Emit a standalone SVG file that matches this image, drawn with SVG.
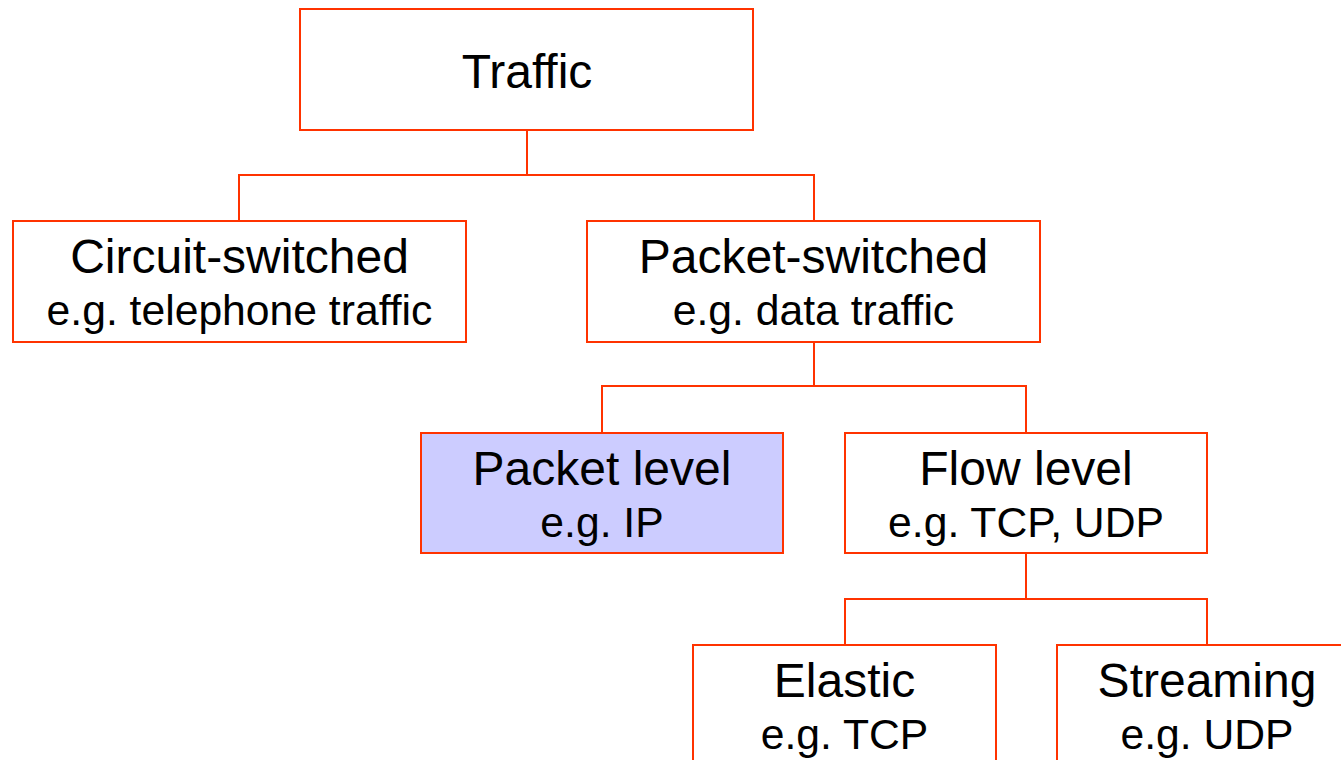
<svg xmlns="http://www.w3.org/2000/svg" width="1341" height="760" viewBox="0 0 1341 760">
<style>
.box{fill:#ffffff;stroke:#ff3300;stroke-width:2}
.hl{fill:#ccccff}
.t1{font-family:"Liberation Sans",Arial,sans-serif;font-size:48px;fill:#000;text-anchor:middle}
.t2{font-family:"Liberation Sans",Arial,sans-serif;font-size:42.67px;fill:#000;text-anchor:middle}
.c{fill:none;stroke:#ff3300;stroke-width:2}
</style>
<rect width="1341" height="760" fill="#ffffff"/>
<g id="connectors">
<path class="c" d="M527,130 V175 M239,221 V175 H814 V221"/>
<path class="c" d="M814,342 V386 M602,433 V386 H1026 V433"/>
<path class="c" d="M1026,553 V599 M845,645 V599 H1207 V645"/>
</g>
<g id="traffic">
<rect class="box" x="300" y="9" width="453" height="121"/>
<text class="t1" x="527" y="88">Traffic</text>
</g>
<g id="circuit">
<rect class="box" x="13" y="221" width="453" height="121"/>
<text class="t1" x="239.5" y="273">Circuit-switched</text>
<text class="t2" x="239.5" y="325">e.g. telephone traffic</text>
</g>
<g id="packetswitched">
<rect class="box" x="587" y="221" width="453" height="121"/>
<text class="t1" x="813.5" y="273">Packet-switched</text>
<text class="t2" x="813.5" y="325">e.g. data traffic</text>
</g>
<g id="packetlevel">
<rect class="box hl" x="421" y="433" width="362" height="120"/>
<text class="t1" x="602" y="485">Packet level</text>
<text class="t2" x="602" y="537">e.g. IP</text>
</g>
<g id="flowlevel">
<rect class="box" x="845" y="433" width="362" height="120"/>
<text class="t1" x="1026" y="485">Flow level</text>
<text class="t2" x="1026" y="537">e.g. TCP, UDP</text>
</g>
<g id="elastic">
<rect class="box" x="693" y="645" width="303" height="130"/>
<text class="t1" x="844.5" y="697">Elastic</text>
<text class="t2" x="844.5" y="749">e.g. TCP</text>
</g>
<g id="streaming">
<rect class="box" x="1057" y="645" width="303" height="130"/>
<text class="t1" x="1207" y="697">Streaming</text>
<text class="t2" x="1207" y="749">e.g. UDP</text>
</g>
</svg>
